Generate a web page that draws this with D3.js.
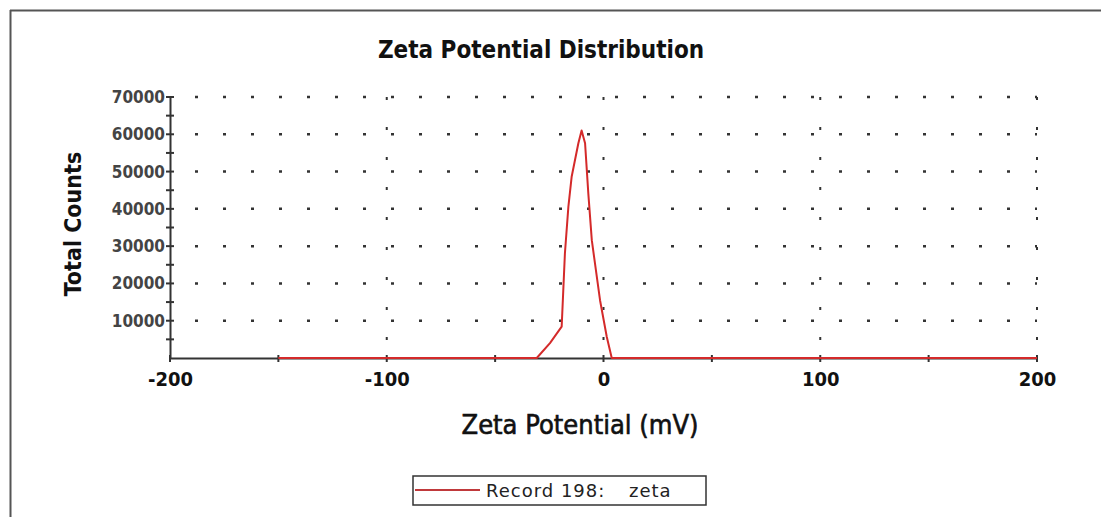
<!DOCTYPE html>
<html><head><meta charset="utf-8">
<script src="https://cdn.jsdelivr.net/npm/d3@7"></script>
<style>
html,body{margin:0;padding:0;background:#fff;}
svg{display:block;}
</style></head>
<body>
<svg id="chart" width="1101" height="517"></svg>
<script>
// ---- data ----
const zetaMv = [-150, -30.8, -24.7, -19.3, -17.8, -16.2, -14.7, -11.6, -10.1, -8.5, -7.0, -5.4, -1.6, 1.5, 3.8, 200];
const totalCounts = [0, 0, 4000, 8400, 28100, 40600, 48600, 57600, 61000, 57600, 44100, 31600, 15500, 5700, 0, 0];
const xMajorTicks = [-200, -100, 0, 100, 200];
const xMinorTicks = [-150, -50, 50, 150];
const yMajorTicks = [10000, 20000, 30000, 40000, 50000, 60000, 70000];
const yMinorTicks = [5000, 15000, 25000, 35000, 45000, 55000, 65000];
const titleText = "Zeta Potential Distribution";
const xTitle = "Zeta Potential (mV)";
const yTitle = "Total Counts";
const legendRecord = "Record 198:";
const legendName = "zeta";

const svg = d3.select("#chart");
const FONT = "'Comic Sans MS','DejaVu Sans Condensed','DejaVu Sans',sans-serif";
const FONT_WIDE = "'Comic Sans MS','DejaVu Sans',sans-serif";

const x = d3.scaleLinear().domain([-200, 200]).range([170, 1037]);
const y = d3.scaleLinear().domain([0, 70000]).range([358, 97]);

// outer frame
svg.append("line").attr("x1", 10).attr("x2", 1101).attr("y1", 10.5).attr("y2", 10.5)
  .attr("stroke", "#555").attr("stroke-width", 2);
svg.append("line").attr("x1", 10.5).attr("x2", 10.5).attr("y1", 10).attr("y2", 517)
  .attr("stroke", "#555").attr("stroke-width", 2);

// title
svg.append("text").attr("x", 541).attr("y", 58).attr("text-anchor", "middle")
  .attr("font-family", FONT).attr("font-size", 24).attr("font-weight", "bold")
  .attr("fill", "#111").text(titleText);

// horizontal dotted grid
svg.append("g").selectAll("line").data(yMajorTicks).join("line")
  .attr("x1", x(-200)).attr("x2", x(200))
  .attr("y1", d => y(d)).attr("y2", d => y(d))
  .attr("stroke", "#333").attr("stroke-width", 2.5)
  .attr("stroke-dasharray", "3 25").attr("stroke-dashoffset", 3);

// vertical dotted grid
svg.append("g").selectAll("line").data(xMajorTicks.slice(1)).join("line")
  .attr("x1", d => x(d)).attr("x2", d => x(d))
  .attr("y1", y(70000)).attr("y2", y(0))
  .attr("stroke", "#333").attr("stroke-width", 2)
  .attr("stroke-dasharray", "3 27").attr("stroke-dashoffset", 0);

// axes
const xAxis = d3.axisBottom(x).tickValues(xMajorTicks).tickSize(0).tickPadding(14)
  .tickFormat(d => String(d));
const gx = svg.append("g").attr("transform", `translate(0,${y(0)})`).call(xAxis);
gx.select(".domain").attr("stroke", "#333").attr("stroke-width", 2);
gx.selectAll("text").attr("font-family", FONT).attr("font-size", 20)
  .attr("font-weight", "bold").attr("fill", "#111");

const yAxis = d3.axisLeft(y).tickValues(yMajorTicks).tickSize(0).tickPadding(5)
  .tickFormat(d => String(d));
const gy = svg.append("g").attr("transform", `translate(${x(-200)},0)`).call(yAxis);
gy.select(".domain").attr("stroke", "#333").attr("stroke-width", 2);
gy.selectAll("text").attr("font-family", FONT).attr("font-size", 17)
  .attr("font-weight", "bold").attr("fill", "#444");

// y ticks (crossing)
svg.append("g").selectAll("line").data(yMajorTicks.concat(yMinorTicks)).join("line")
  .attr("x1", x(-200) - 4).attr("x2", x(-200) + 4)
  .attr("y1", d => y(d)).attr("y2", d => y(d))
  .attr("stroke", "#333").attr("stroke-width", 2);
// x ticks (crossing)
svg.append("g").selectAll("line").data(xMajorTicks.concat(xMinorTicks)).join("line")
  .attr("x1", d => x(d)).attr("x2", d => x(d))
  .attr("y1", y(0) - 3).attr("y2", y(0) + 4)
  .attr("stroke", "#333").attr("stroke-width", 2);

// data line
const line = d3.line().x((d, i) => x(zetaMv[i])).y((d, i) => y(totalCounts[i]));
svg.append("path").datum(totalCounts).attr("d", line)
  .attr("fill", "none").attr("stroke", "#d42a2a").attr("stroke-width", 2)
  .attr("stroke-linejoin", "round");

// axis titles
svg.append("text").attr("x", 580).attr("y", 434).attr("text-anchor", "middle")
  .attr("font-family", FONT).attr("font-size", 27).attr("fill", "#111")
  .attr("stroke", "#111").attr("stroke-width", 0.6).text(xTitle);
svg.append("text").attr("transform", "translate(81,224) rotate(-90)").attr("text-anchor", "middle")
  .attr("font-family", FONT).attr("font-size", 23).attr("font-weight", "bold")
  .attr("fill", "#111").text(yTitle);

// legend
const lg = svg.append("g");
lg.append("rect").attr("x", 413).attr("y", 476).attr("width", 293).attr("height", 29)
  .attr("fill", "#fff").attr("stroke", "#333").attr("stroke-width", 1.5);
lg.append("line").attr("x1", 415).attr("x2", 480).attr("y1", 490).attr("y2", 490)
  .attr("stroke", "#c0393b").attr("stroke-width", 2);
lg.append("text").attr("x", 486).attr("y", 497).attr("font-family", FONT_WIDE)
  .attr("font-size", 18).attr("letter-spacing", 1).attr("fill", "#222").text(legendRecord);
lg.append("text").attr("x", 629).attr("y", 497).attr("font-family", FONT_WIDE)
  .attr("font-size", 18).attr("letter-spacing", 1).attr("fill", "#222").text(legendName);
</script>
</body></html>
